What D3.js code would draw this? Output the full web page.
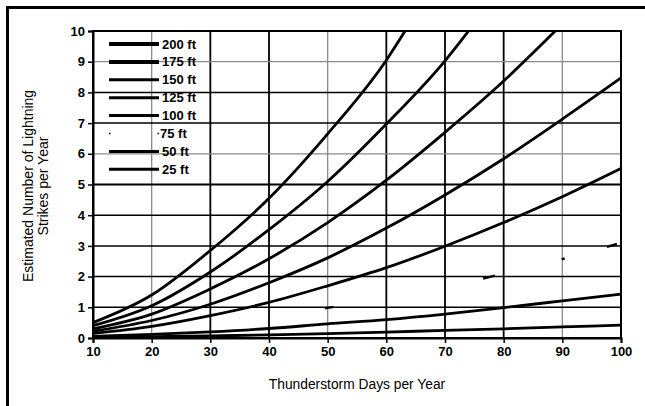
<!DOCTYPE html>
<html><head><meta charset="utf-8">
<script src="https://cdn.jsdelivr.net/npm/d3@7"></script>
<style>body{margin:0;background:#fff}svg{display:block}text{font-family:"Liberation Sans",Arial,sans-serif}</style>
</head><body>
<svg id="c" width="645" height="406"></svg>
<script>
// ---- data ----
const xTicks = [10,20,30,40,50,60,70,80,90,100];
const yTicks = [0,1,2,3,4,5,6,7,8,9,10];
const seriesNames = ["200 ft","175 ft","150 ft","125 ft","100 ft","75 ft","50 ft","25 ft"];
const s200 = [[10,0.5],[20,1.4],[30,2.85],[40,4.55],[50,6.65],[60,9.05],[63.2,10]];
const s175 = [[10,0.4],[20,1.05],[30,2.15],[40,3.53],[50,5.1],[60,6.97],[70,9.03],[74,10]];
const s150 = [[10,0.3],[20,0.78],[30,1.6],[40,2.58],[50,3.76],[60,5.14],[70,6.7],[80,8.37],[88.8,10]];
const s125 = [[10,0.22],[20,0.57],[30,1.1],[40,1.8],[50,2.61],[60,3.58],[70,4.66],[80,5.84],[90,7.13],[100,8.47]];
const s100 = [[10,0.15],[20,0.38],[30,0.73],[40,1.16],[50,1.7],[60,2.29],[70,2.99],[80,3.76],[90,4.6],[100,5.52]];
const s75  = [[10,0.08],[20,0.2],[30,0.38],[40,0.65],[50,0.98],[60,1.3],[70,1.65],[80,2.1],[90,2.57],[100,3.1]];
const s50  = [[10,0.05],[20,0.12],[30,0.2],[40,0.31],[50,0.46],[60,0.6],[70,0.78],[80,0.99],[90,1.21],[100,1.43]];
const s25  = [[10,0.02],[20,0.04],[30,0.07],[40,0.1],[50,0.14],[60,0.19],[70,0.25],[80,0.3],[90,0.36],[100,0.42]];
const seriesData = [s200,s175,s150,s125,s100,s75,s50,s25];
// visible fragments of the faint 75 ft line (x ranges)
const fragments75 = [[49.5,51],[76.5,78.5],[89.9,90.4],[97.6,99.3]];
const greyX = [20,50,90];
const greyY = [6,9];

// ---- layout ----
const svg = d3.select("#c");
const L=93, R=621, T=31, B=338;
const x = d3.scaleLinear().domain([10,100]).range([L,R]);
const y = d3.scaleLinear().domain([0,10]).range([B,T]);

// outer frame
svg.append("line").attr("x1",7.5).attr("x2",7.5).attr("y1",6).attr("y2",406).attr("stroke","#000").attr("stroke-width",3);
svg.append("line").attr("x1",6).attr("x2",645).attr("y1",7.5).attr("y2",7.5).attr("stroke","#000").attr("stroke-width",3);

// grid
const g = svg.append("g");
xTicks.slice(1,-1).forEach(v=>{
  const grey = greyX.includes(v);
  g.append("line").attr("x1",x(v)).attr("x2",x(v)).attr("y1",T).attr("y2",B)
   .attr("stroke",grey?"#8a8a8a":"#000").attr("stroke-width",grey?1.3:1.8);
});
yTicks.slice(1,-1).forEach(v=>{
  const grey = greyY.includes(v);
  g.append("line").attr("x1",L).attr("x2",R).attr("y1",y(v)).attr("y2",y(v))
   .attr("stroke",grey?"#8a8a8a":"#000").attr("stroke-width",grey?1.3:(v===5?2.2:1.5));
});
// plot border
svg.append("rect").attr("x",L).attr("y",T).attr("width",R-L).attr("height",B-T)
  .attr("fill","none").attr("stroke","#000").attr("stroke-width",2);

// axes
const ax = svg.append("g").attr("transform",`translate(0,${B})`)
  .call(d3.axisBottom(x).tickValues(xTicks).tickSize(5).tickPadding(4).tickFormat(d3.format("d")));
const ay = svg.append("g").attr("transform",`translate(${L},0)`)
  .call(d3.axisLeft(y).tickValues(yTicks).tickSize(5).tickPadding(3).tickFormat(d3.format("d")));
[ax,ay].forEach(a=>{
  a.select(".domain").attr("stroke","#000").attr("stroke-width",2);
  a.selectAll(".tick line").attr("stroke","#000").attr("stroke-width",1.5);
  a.selectAll("text").attr("fill","#000").style("font-size","13px").style("font-weight","bold");
});

// lines
const line = d3.line().x(d=>x(d[0])).y(d=>y(d[1])).curve(d3.curveMonotoneX);
const paths = svg.append("g").selectAll("path").data(seriesData).join("path")
  .attr("d",line).attr("fill","none").attr("stroke","#000").attr("stroke-width",2.8)
  .attr("stroke-linejoin","round");

// 75 ft: only a few fragments visible
const p75 = paths.filter((d,i)=>seriesNames[i]==="75 ft").node();
function lenAt(xv){
  let lo=0, hi=p75.getTotalLength(), tx=x(xv);
  for(let k=0;k<40;k++){const m=(lo+hi)/2; if(p75.getPointAtLength(m).x<tx) lo=m; else hi=m;}
  return lo;
}
let arr=[0], prev=0;
fragments75.forEach(([a,b])=>{const la=lenAt(a), lb=lenAt(b); arr.push(la-prev, lb-la); prev=lb;});
arr.push(2000);
d3.select(p75).attr("stroke-dasharray",arr.join(" ")).attr("stroke-width",2.4);

// legend
const lg = svg.append("g");
seriesNames.forEach((n,i)=>{
  const yy = 44 + i*17.9;
  const l = lg.append("line").attr("x1",109).attr("x2",159).attr("y1",yy).attr("y2",yy)
    .attr("stroke","#000").attr("stroke-width", i<2?4:3);
  if(n==="75 ft") l.attr("stroke-dasharray","1.5 47").attr("stroke-width",1.5);
  lg.append("text").attr("x",n==="75 ft"?160:162).attr("y",yy+4.5).text(n)
    .style("font-size","13px").style("font-weight","bold").attr("fill","#000");
});

// axis titles
svg.append("text").attr("x",357).attr("y",389).attr("text-anchor","middle")
  .style("font-size","13.8px").text("Thunderstorm Days per Year");
const yt = svg.append("text").attr("transform","translate(0,186) rotate(-90)").attr("text-anchor","middle")
  .style("font-size","14px");
yt.append("tspan").attr("x",0).attr("y",33).text("Estimated Number of Lightning");
yt.append("tspan").attr("x",0).attr("y",48).text("Strikes per Year");
</script>
</body></html>
